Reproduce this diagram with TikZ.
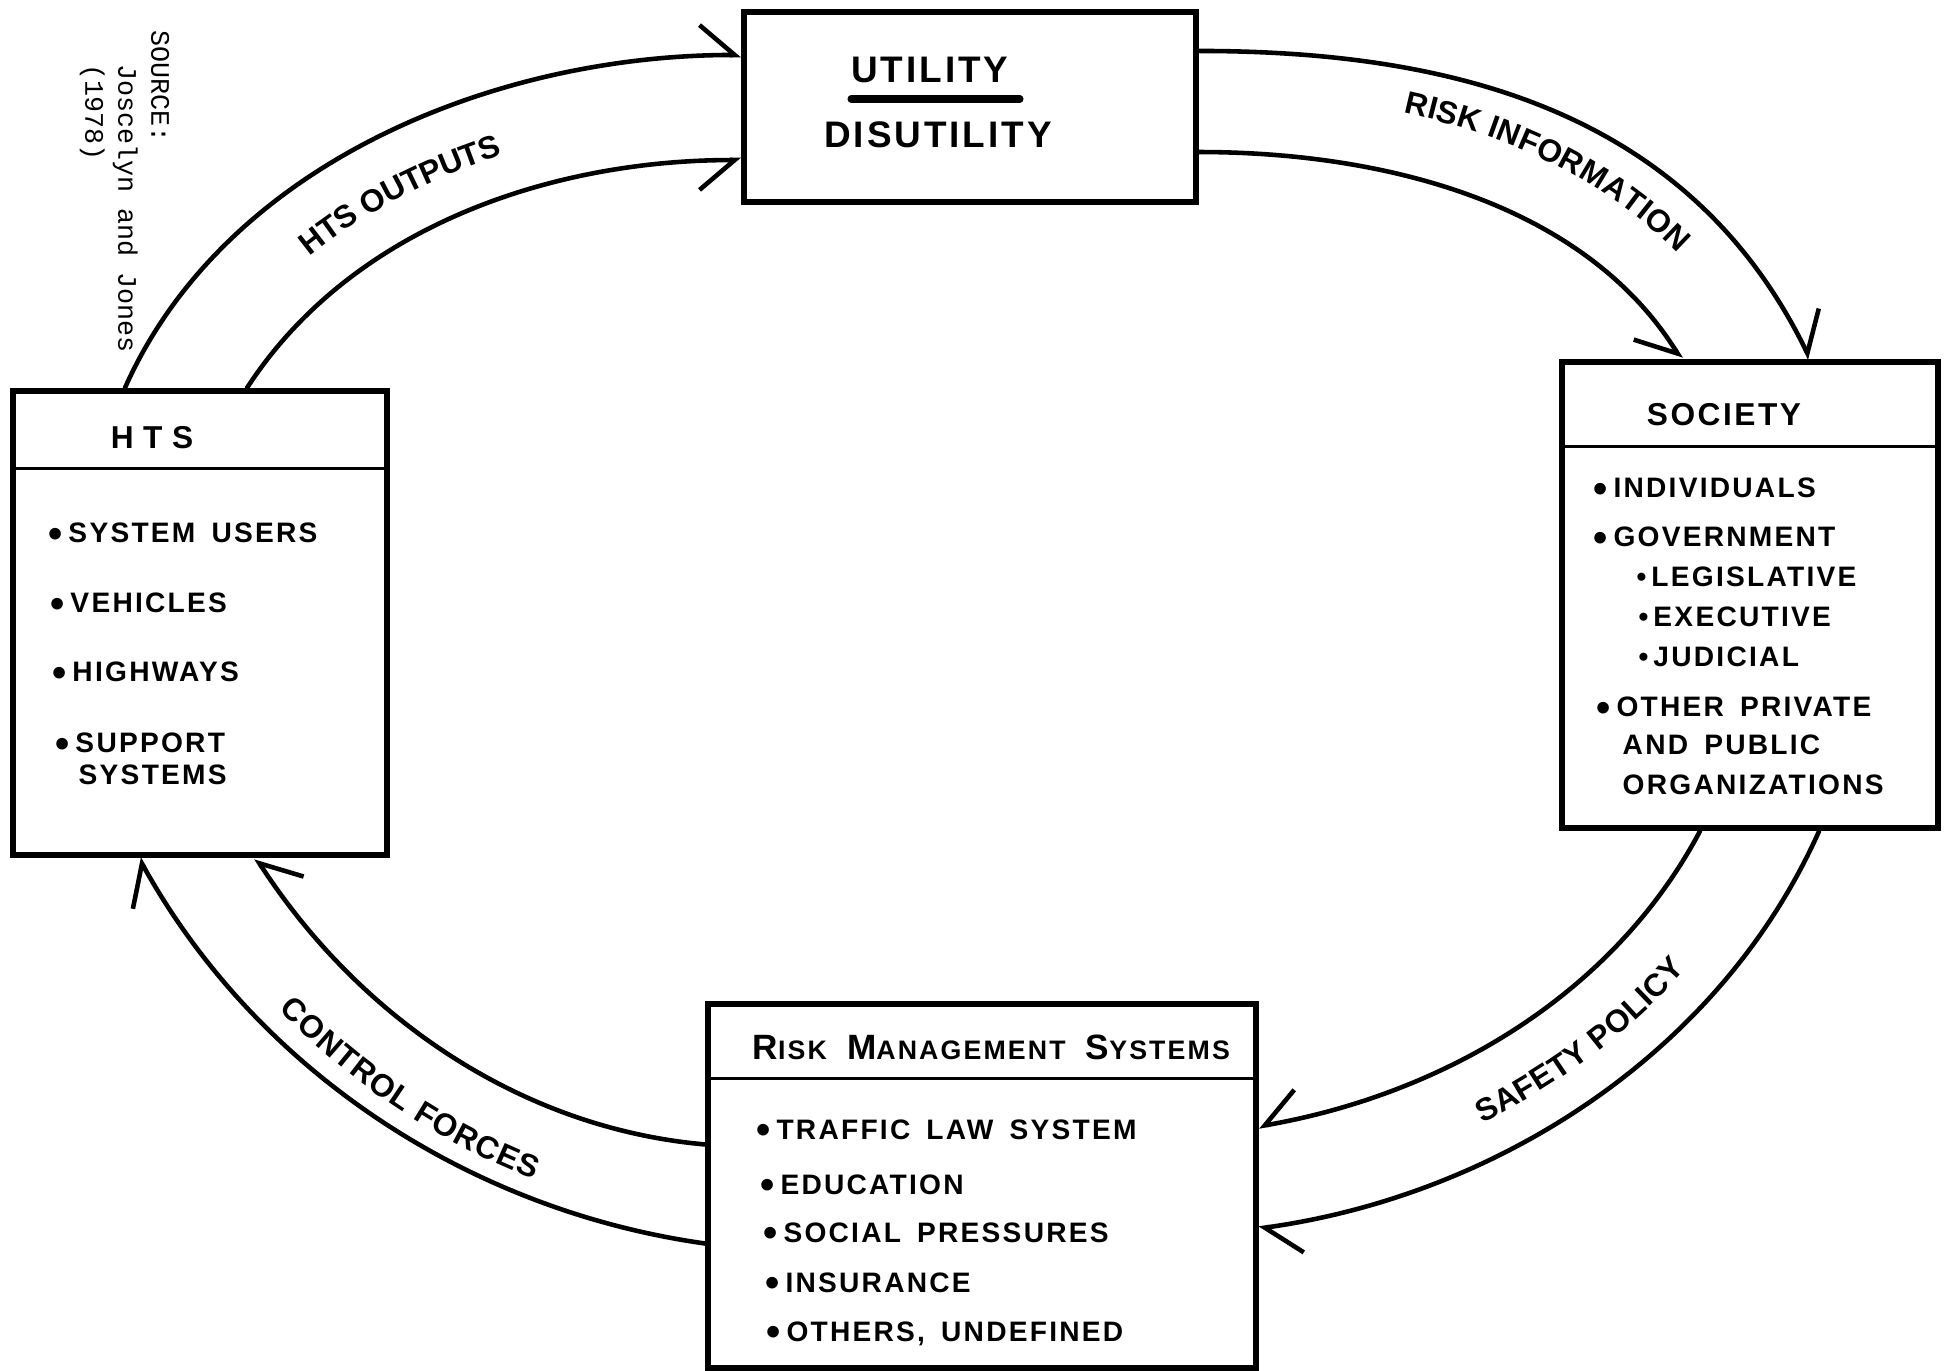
\documentclass[tikz,border=0pt]{standalone}
\usepackage{fontspec}
\setmainfont{Liberation Sans}
\newfontfamily\boxfont[LetterSpace=8,WordSpace=1.6]{Liberation Sans}
\newfontfamily\srcfont{Liberation Mono}
\usetikzlibrary{arrows.meta,calc,decorations.text}
\newcommand{\arcfont}{\bfseries\fontsize{9}{11}\selectfont}
\newcommand{\scword}[2]{{\fontsize{10}{12}\selectfont #1}{\fontsize{7.6}{9}\selectfont #2}}
\newcommand{\dotb}{\raisebox{-1.4pt}{\fontsize{11.5}{12}\selectfont\textbullet}\hspace{1.6pt}}
\newcommand{\subdot}{\textbullet\hspace{1.4pt}}

\begin{document}
\begin{tikzpicture}[x=0.01cm, y=0.01cm,
    box/.style={draw, line width=1.7pt, inner sep=0pt},
    rule/.style={line width=0.85pt},
    flow/.style={line width=1.3pt, line cap=round},
    barb/.style={-{Straight Barb[length=10pt, width=17pt, harpoon]}},
    barbsw/.style={-{Straight Barb[length=10pt, width=17pt, harpoon, swap]}},
    head/.style={inner sep=0pt, font={\boxfont\bfseries\fontsize{9}{11}\selectfont}},
    entry/.style={anchor=base west, inner sep=0pt, font={\boxfont\bfseries\fontsize{8}{9.6}\selectfont}},
    arclabel/.style={decorate, decoration={text along path, text={|\arcfont|#1}}}
]
\useasboundingbox (0,0) rectangle (1946,-1371);

% Boxes
\node[box, minimum width=3.74cm, minimum height=4.64cm] (hts) at (200,-623) {};
\node[box, minimum width=4.52cm, minimum height=1.90cm] (util) at (970,-107) {};
\node[box, minimum width=3.76cm, minimum height=4.66cm] (soc) at (1750,-595) {};
\node[box, minimum width=5.47cm, minimum height=3.63cm] (rms) at (982,-1186) {};

\draw[rule] ([yshift=-0.81cm]hts.north west) -- ([yshift=-0.81cm]hts.north east);
\draw[rule] ([yshift=-0.88cm]soc.north west) -- ([yshift=-0.88cm]soc.north east);
\draw[rule] ([yshift=-0.77cm]rms.north west) -- ([yshift=-0.77cm]rms.north east);

% Utility / disutility
\node[head, font={\boxfont\bfseries\fontsize{10.5}{12}\selectfont}] (utl) at (930,-70) {UTILITY};
\node[head, font={\boxfont\bfseries\fontsize{10.5}{12}\selectfont}] (disutl) at (938,-135) {DISUTILITY};
\draw[line width=2pt, line cap=round] (851,-99) -- (1020,-99);

% HTS contents
\node[head] (htshead) at (152,-438) {{\addfontfeature{LetterSpace=30}HTS}};
\node[entry] (hts1) at (48,-543) {\dotb SYSTEM USERS};
\node[entry] (hts2) at (50,-613) {\dotb VEHICLES};
\node[entry] (hts3) at (52,-682) {\dotb HIGHWAYS};
\node[entry] (hts4) at (55,-753) {\dotb SUPPORT};
\node[entry] (hts5) at (78,-785) {SYSTEMS};

% Society contents
\node[head] (sochead) at (1724,-415) {SOCIETY};
\node[entry] (soc1) at (1593,-498) {\dotb INDIVIDUALS};
\node[entry] (soc2) at (1593,-547) {\dotb GOVERNMENT};
\node[entry] (soc3) at (1636,-587) {\subdot LEGISLATIVE};
\node[entry] (soc4) at (1638,-627) {\subdot EXECUTIVE};
\node[entry] (soc5) at (1638,-667) {\subdot JUDICIAL};
\node[entry] (soc6) at (1596,-717) {\dotb OTHER PRIVATE};
\node[entry] (soc7) at (1622,-755) {AND PUBLIC};
\node[entry] (soc8) at (1622,-795) {ORGANIZATIONS};

% Risk management contents
\node[entry, font={\boxfont\bfseries}] (rmshead) at (752,-1059) {\scword{R}{ISK} \scword{M}{ANAGEMENT} \scword{S}{YSTEMS}};
\node[entry] (rms1) at (756,-1139) {\dotb TRAFFIC LAW SYSTEM};
\node[entry] (rms2) at (760,-1194) {\dotb EDUCATION};
\node[entry] (rms3) at (763,-1242) {\dotb SOCIAL PRESSURES};
\node[entry] (rms4) at (765,-1292) {\dotb INSURANCE};
\node[entry] (rms5) at (766,-1341) {\dotb OTHERS, UNDEFINED};

% Source note
\node[rotate=-90, anchor=north west, inner sep=0pt, align=left,
      font={\srcfont\fontsize{7.6}{9.4}\selectfont}] (src) at (170,-30)
      {SOURCE:\\\hspace*{1.25em}Joscelyn and Jones\\\hspace*{1.25em}(1978)};

% Arc ends
\coordinate (hoA) at ([xshift=1.15cm]hts.north west);
\coordinate (hiA) at ([xshift=2.37cm]hts.north west);
\coordinate (hoB) at ([yshift=-0.46cm]util.north west);
\coordinate (hiB) at ([yshift=-1.51cm]util.north west);
\coordinate (roA) at ([yshift=-0.42cm]util.north east);
\coordinate (riA) at ([yshift=-1.43cm]util.north east);
\coordinate (roB) at ([xshift=2.51cm]soc.north west);
\coordinate (riB) at ([xshift=1.22cm]soc.north west);
\coordinate (soA) at ([xshift=2.60cm]soc.south west);
\coordinate (siA) at ([xshift=1.41cm]soc.south west);
\coordinate (soB) at ([yshift=-2.27cm]rms.north east);
\coordinate (siB) at ([yshift=-1.25cm]rms.north east);
\coordinate (coA) at ([yshift=-2.42cm]rms.north west);
\coordinate (ciA) at ([yshift=-1.43cm]rms.north west);
\coordinate (coB) at ([xshift=1.29cm]hts.south west);
\coordinate (ciB) at ([xshift=2.46cm]hts.south west);

% Flows
\draw[flow, barb] (hoA) to[out=66, in=180, looseness=0.9] (hoB);
\draw[flow, barbsw] (hiA) to[out=57, in=180, looseness=0.9] (hiB);
\draw[flow, barb] (roA) to[out=0, in=116, looseness=1] (roB);
\draw[flow, barbsw] (riA) to[out=0, in=122, looseness=0.9] (riB);
\draw[flow, barb] (soA) to[out=246, in=8, looseness=0.9] (soB);
\draw[flow, barbsw] (siA) to[out=242, in=10, looseness=0.9] (siB);
\draw[flow, barb] (coA) to[out=172, in=299, looseness=0.9] (coB);
\draw[flow, barbsw] (ciA) to[out=175, in=303, looseness=0.9] (ciB);

% Flow labels
\path[arclabel=HTS OUTPUTS, decoration={text align={center, right indent=0.62cm}, raise=-3.2pt}]
  ($(hoA)!0.5!(hiA)$) to[out=62, in=180, looseness=0.9] ($(hoB)!0.5!(hiB)$);
\path[arclabel=RISK INFORMATION, decoration={text align={center, left indent=0.8cm}, raise=2.5pt}]
  ($(roA)!0.5!(riA)$) to[out=0, in=119, looseness=0.95] ($(roB)!0.5!(riB)$);
\path[arclabel=SAFETY POLICY, decoration={text align={center, left indent=0.74cm}, raise=-4.5pt}]
  ($(soB)!0.5!(siB)$) to[out=9, in=244, looseness=0.9] ($(soA)!0.5!(siA)$);
\path[arclabel=CONTROL FORCES, decoration={text align={center}, raise=-8pt}]
  ($(coB)!0.5!(ciB)$) to[out=301, in=173, looseness=0.9] ($(coA)!0.5!(ciA)$);

\end{tikzpicture}
\end{document}
